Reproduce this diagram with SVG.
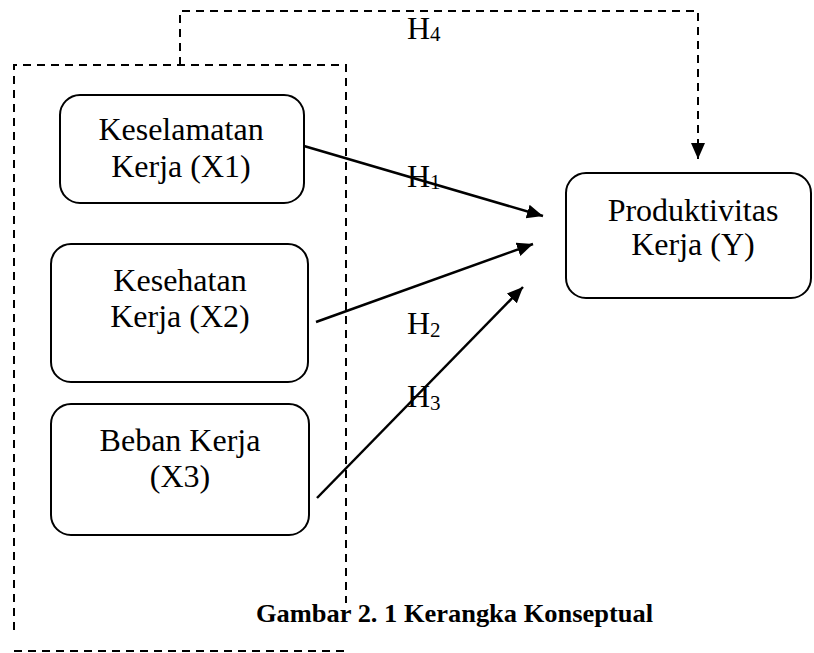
<svg xmlns="http://www.w3.org/2000/svg" width="814" height="653" viewBox="0 0 814 653">
<style>
  .box { fill: #fff; stroke: #000; stroke-width: 2; }
  .t { font-family: "Liberation Serif", "Times New Roman", serif; font-size: 32px; fill: #000; text-anchor: middle; }
  .h { font-family: "Liberation Serif", "Times New Roman", serif; font-size: 32px; fill: #000; }
  .sub { font-size: 21px; }
  .dash { fill: none; stroke: #000; stroke-width: 2; stroke-dasharray: 8 6; }
  .solid { fill: none; stroke: #000; stroke-width: 2.5; }
  .cap { font-family: "Liberation Serif", "Times New Roman", serif; font-size: 26px; font-weight: bold; fill: #000; }
</style>
<defs>
  <marker id="arr" markerUnits="userSpaceOnUse" markerWidth="18" markerHeight="16" refX="16" refY="7" orient="auto">
    <path d="M0,0 L16,7 L0,14 z" fill="#000" stroke="none"/>
  </marker>
</defs>
<g id="frame">
  <path class="dash" d="M14,630 V65 H346 V603"/>
  <path class="dash" d="M14,651 H346"/>
</g>
<g id="x1">
  <rect class="box" x="60" y="95" width="244" height="108" rx="20"/>
  <text class="t" x="181" y="140">Keselamatan</text>
  <text class="t" x="181" y="177">Kerja (X1)</text>
</g>
<g id="x2">
  <rect class="box" x="51" y="244" width="257" height="138" rx="20"/>
  <text class="t" x="180" y="291">Kesehatan</text>
  <text class="t" x="180" y="327">Kerja (X2)</text>
</g>
<g id="x3">
  <rect class="box" x="51" y="404" width="258" height="131" rx="20"/>
  <text class="t" x="180" y="451">Beban Kerja</text>
  <text class="t" x="180" y="487">(X3)</text>
</g>
<g id="y">
  <rect class="box" x="566" y="173" width="245" height="125" rx="20"/>
  <text class="t" x="693" y="221">Produktivitas</text>
  <text class="t" x="693" y="255">Kerja (Y)</text>
</g>
<g id="connectors">
  <line class="solid" x1="304" y1="146" x2="543" y2="216" marker-end="url(#arr)"/>
  <line class="solid" x1="316" y1="322" x2="533" y2="244" marker-end="url(#arr)"/>
  <line class="solid" x1="317" y1="498" x2="523" y2="287" marker-end="url(#arr)"/>
  <path class="dash" d="M180,65 V11 H698 V159" marker-end="url(#arr)"/>
</g>
<g id="labels">
  <text class="h" x="407" y="39">H<tspan class="sub" dy="2">4</tspan></text>
  <text class="h" x="407" y="187">H<tspan class="sub" dy="2">1</tspan></text>
  <text class="h" x="407" y="334">H<tspan class="sub" dy="3">2</tspan></text>
  <text class="h" x="407" y="407">H<tspan class="sub" dy="3">3</tspan></text>
</g>
<text class="cap" x="256" y="622" textLength="397" lengthAdjust="spacingAndGlyphs">Gambar 2. 1 Kerangka Konseptual</text>
</svg>
